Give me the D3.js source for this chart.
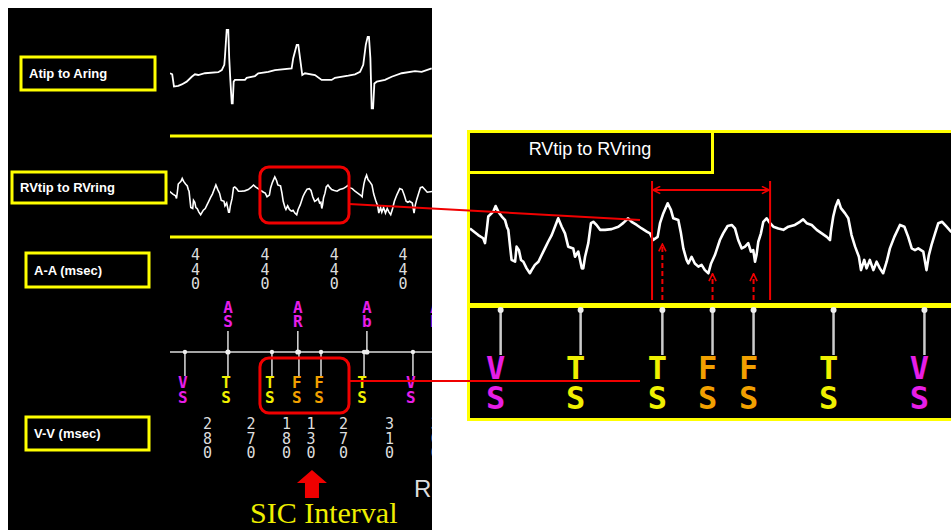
<!DOCTYPE html>
<html>
<head>
<meta charset="utf-8">
<script src="https://cdn.jsdelivr.net/npm/d3@7"></script>
<style>
  body { margin: 0; background: #fff; }
  svg { display: block; }
</style>
</head>
<body>
<div id="chart"></div>
<script>
// ---- data (time in ms, amplitude in mV) ----
const atrialTrace = [
  [0,0.05],[14,0.02],[25,-0.33],[52,-0.31],[74,-0.27],[105,-0.19],[137,-0.05],[157,0.02],[178,0],
  [220,0.05],[304,0.08],[326,0.14],[342,0.29],[346,0.52],[357,1.29],[367,1.29],[373,0.48],[380,-0.14],
  [389,-0.81],[395,-0.81],[401,-0.19],[409,-0.14],[472,-0.14],[483,-0.08],[535,-0.03],[556,0.05],
  [619,0.09],[661,0.14],[766,0.19],[776,0.48],[798,0.86],[808,0.86],[819,0.48],[833,0],[850,0.05],
  [913,0],[955,-0.14],[1018,-0.14],[1039,-0.08],[1123,-0.02],[1165,0.02],[1197,0.09],[1217,0.29],
  [1233,0.86],[1245,1.09],[1253,1.09],[1262,0.48],[1266,-0.19],[1270,-0.95],[1279,-0.95],[1287,-0.24],
  [1302,-0.19],[1354,-0.14],[1396,-0.05],[1459,0.05],[1543,0.11],[1585,0.09],[1648,0.19]
];

const rvTrace = [
  [-10,0.33],[18,0.14],[35,0.05],[41,-0.09],[47,0.29],[52,0.67],[69,0.81],[77,0.97],[86,0.81],
  [98,0.67],[109,0.57],[115,0.38],[120,0.29],[126,-0.19],[131,-0.57],[143,-0.62],[148,-0.19],
  [156,-0.29],[163,-0.57],[171,-0.62],[182,-0.81],[193,-0.95],[199,-0.86],[210,-0.71],[222,-0.62],
  [233,-0.43],[244,-0.24],[255,-0.05],[267,0.14],[278,0.38],[289,0.62],[301,0.38],[312,0.19],
  [323,-0.19],[340,-0.24],[346,-0.48],[357,-0.33],[363,-0.57],[369,-0.81],[374,-0.81],[380,-0.48],
  [391,-0.09],[400,0.48],[408,0.52],[419,0.43],[431,0.29],[448,0.29],[470,0.31],[493,0.38],
  [510,0.49],[526,0.62],[538,0.52],[555,0.43],[572,0.33],[589,0.24],[600,0.19],[611,0],[626,0.09],
  [634,0.48],[645,0.76],[660,1.05],[671,0.86],[679,0.62],[696,0.57],[705,0.19],[713,-0.24],
  [724,-0.57],[730,-0.67],[741,-0.48],[752,-0.67],[764,-0.76],[775,-0.71],[786,-0.86],[798,-0.95],
  [807,-0.67],[820,-0.43],[837,0],[848,0.19],[863,0.4],[877,0.43],[888,0.33],[899,0],[911,-0.24],
  [922,-0.19],[933,-0.09],[942,-0.33],[950,-0.29],[956,-0.62],[961,-0.43],[967,-0.05],[976,0.19],
  [984,0.52],[995,0.62],[1007,0.48],[1018,0.38],[1035,0.33],[1052,0.29],[1069,0.38],[1091,0.43],
  [1108,0.52],[1119,0.59],[1131,0.48],[1148,0.43],[1165,0.29],[1182,0.19],[1199,0.09],[1210,0],
  [1213,0.24],[1221,0.67],[1229,0.95],[1238,1.14],[1247,0.91],[1261,0.76],[1272,0.62],[1283,0.14],
  [1295,-0.19],[1308,-0.48],[1315,-0.86],[1326,-0.57],[1334,-0.81],[1345,-0.57],[1357,-0.86],
  [1368,-0.62],[1379,-0.81],[1390,-0.95],[1402,-0.62],[1413,-0.24],[1428,0.09],[1447,0.43],
  [1462,0.38],[1475,0.09],[1487,-0.24],[1498,-0.29],[1509,-0.24],[1526,-0.33],[1537,-0.86],
  [1545,-0.43],[1554,-0.14],[1566,0.19],[1577,0.48],[1590,0.52],[1605,0.38],[1620,0.24],[1650,0.28]
];

const atrialTimes = [-70, 365, 805, 1240, 1670];
const atrialCodes = ["AS", "AS", "AR", "Ab", "AR"];
const aaIntervals = [440, 440, 440, 440];

const ventTimes = [94, 365, 642, 812, 951, 1222, 1530, 1800];
const ventCodes = ["VS", "TS", "TS", "FS", "FS", "TS", "VS", "VS"];
const vvIntervals = [280, 270, 180, 130, 270, 310, 300];

const sicWindow = [607, 1007];
const sicArrowTimes = [642, 812, 951];
const sicArrowTips = [-0.06, -0.91, -0.91];

const channelLabels = ["Atip to Aring", "RVtip to RVring", "A-A (msec)", "V-V (msec)"];

// ---- drawing ----
const W = 951, H = 530;
const RED = "#f00000", YEL = "#ffff00";
const codeColor = c => ({ V: "#e61ee6", A: "#e61ee6", T: "#f0f000", F: "#f2a000" })[c[0]];

const svg = d3.select("#chart").append("svg")
    .attr("width", W)
    .attr("height", H)
    .attr("viewBox", [0, 0, W, H]);

svg.append("rect").attr("width", W).attr("height", H).attr("fill", "#fff");

const defs = svg.append("defs");
defs.append("clipPath").attr("id", "clipL")
  .append("rect").attr("x", 170).attr("y", 8).attr("width", 262).attr("height", 522);
defs.append("clipPath").attr("id", "clipPanel")
  .append("rect").attr("x", 8).attr("y", 8).attr("width", 424).attr("height", 522);
defs.append("clipPath").attr("id", "clipR")
  .append("rect").attr("x", 469).attr("y", 174).attr("width", 482).attr("height", 128);
defs.append("marker")
    .attr("id", "chev")
    .attr("viewBox", "0 0 10 10")
    .attr("refX", 9).attr("refY", 5)
    .attr("markerWidth", 9).attr("markerHeight", 9)
    .attr("markerUnits", "userSpaceOnUse")
    .attr("orient", "auto-start-reverse")
  .append("path")
    .attr("d", "M1,1 L9,5 L1,9")
    .attr("fill", "none")
    .attr("stroke", RED)
    .attr("stroke-width", 1.8);

// scales
const xL = d3.scaleLinear().domain([0, 1650]).range([170, 432]);
const xR = d3.scaleLinear().domain([-20, 1620]).range([467, 951]);
const yA = d3.scaleLinear().domain([-1, 1]).range([110, 40]);
const yRVL = d3.scaleLinear().domain([-1, 1]).range([215.7, 177.8]);
const yRVR = d3.scaleLinear().domain([-1, 1]).range([275, 205]);

// helper: a code written top-to-bottom, one upright character per row
// (upright glyphs advance ~1.164em in DejaVu Sans Mono, so pitch is set via letter-spacing)
function stack(g, str, x, top, size, pitch, color, weight) {
  g.append("text")
    .attr("x", x).attr("y", top)
    .attr("writing-mode", "vertical-rl")
    .style("text-orientation", "upright")
    .attr("letter-spacing", pitch - 1.164 * size)
    .attr("font-family", "'DejaVu Sans Mono', monospace")
    .attr("font-weight", weight)
    .attr("font-size", size)
    .attr("fill", color)
    .text(str);
}

// ---- left panel ----
svg.append("rect").attr("x", 8).attr("y", 8).attr("width", 424).attr("height", 522).attr("fill", "#000");
const left = svg.append("g").attr("clip-path", "url(#clipPanel)");

const boxes = [[21, 57, 134, 33], [12, 172, 154, 31], [26, 253, 123, 34], [26, 417, 123, 33]];
boxes.forEach((b, i) => {
  left.append("rect")
    .attr("x", b[0]).attr("y", b[1]).attr("width", b[2]).attr("height", b[3])
    .attr("fill", "none").attr("stroke", YEL).attr("stroke-width", 3);
  left.append("text")
    .attr("x", b[0] + 8).attr("y", b[1] + b[3] / 2 + 4.5)
    .attr("font-family", "'Liberation Sans', Arial, sans-serif")
    .attr("font-weight", "bold").attr("font-size", 13)
    .attr("fill", "#fff")
    .text(channelLabels[i]);
});

[136, 237].forEach(y => {
  left.append("line").attr("x1", 170).attr("x2", 432).attr("y1", y).attr("y2", y)
    .attr("stroke", YEL).attr("stroke-width", 3);
});

const strip = left.append("g").attr("clip-path", "url(#clipL)");

strip.append("path")
  .datum(atrialTrace)
  .attr("fill", "none").attr("stroke", "#fff").attr("stroke-width", 1.8)
  .attr("d", d3.line().x(d => xL(d[0])).y(d => yA(d[1])));

strip.append("path")
  .datum(rvTrace)
  .attr("fill", "none").attr("stroke", "#fff").attr("stroke-width", 1.6)
  .attr("d", d3.line().x(d => xL(d[0])).y(d => yRVL(d[1])));

// A-A intervals
aaIntervals.forEach((v, i) => {
  const mid = (atrialTimes[i] + atrialTimes[i + 1]) / 2;
  stack(strip, String(v), xL(mid) + 2, 246, 15, 14, "#ddd", "normal");
});

// marker channel
strip.append("line").attr("x1", 170).attr("x2", 432).attr("y1", 352).attr("y2", 352)
  .attr("stroke", "#ddd").attr("stroke-width", 1.5);

atrialTimes.forEach((t, i) => {
  strip.append("line").attr("x1", xL(t)).attr("x2", xL(t)).attr("y1", 331).attr("y2", 352)
    .attr("stroke", "#ddd").attr("stroke-width", 1.5);
  strip.append("circle").attr("cx", xL(t)).attr("cy", 352).attr("r", 2.6).attr("fill", "#eee");
  stack(strip, atrialCodes[i], xL(t), 298, 16, 13.5, codeColor(atrialCodes[i]), "bold");
});

ventTimes.forEach((t, i) => {
  strip.append("line").attr("x1", xL(t)).attr("x2", xL(t)).attr("y1", 352).attr("y2", 376)
    .attr("stroke", "#ddd").attr("stroke-width", 1.5);
  strip.append("circle").attr("cx", xL(t)).attr("cy", 352).attr("r", 2.2).attr("fill", "#eee");
  stack(strip, ventCodes[i], xL(t) - 2, 373, 16, 15, codeColor(ventCodes[i]), "bold");
});

// V-V intervals
vvIntervals.forEach((v, i) => {
  const mid = (ventTimes[i] + ventTimes[i + 1]) / 2;
  stack(strip, String(v), xL(mid) + 1, 415, 15, 14, "#ddd", "normal");
});

// highlight boxes around the SIC
const hx0 = xL(ventTimes[2]) - 12, hx1 = xL(ventTimes[4]) + 28;
[[167, 223], [358, 413]].forEach(r => {
  left.append("rect")
    .attr("x", hx0).attr("y", r[0]).attr("width", hx1 - hx0).attr("height", r[1] - r[0])
    .attr("rx", 9).attr("fill", "none").attr("stroke", RED).attr("stroke-width", 3);
});

// SIC arrow + label
const sicX = xL((ventTimes[3] + ventTimes[4]) / 2) + 2;
left.append("path")
  .attr("d", `M${sicX},470 L${sicX + 15},483 L${sicX + 7},483 L${sicX + 7},498 L${sicX - 7},498 L${sicX - 7},483 L${sicX - 15},483 Z`)
  .attr("fill", RED);
left.append("text")
  .attr("x", 250).attr("y", 523)
  .attr("font-family", "'Liberation Serif', 'Times New Roman', serif")
  .attr("font-size", 30).attr("fill", "#eeee00")
  .text("SIC Interval");
left.append("text")
  .attr("x", 414).attr("y", 497)
  .attr("font-family", "'Liberation Sans', Arial, sans-serif")
  .attr("font-size", 24).attr("fill", "#ddd")
  .text("Run");

// ---- right panel (zoom of RV channel) ----
svg.append("rect").attr("x", 467).attr("y", 130).attr("width", 490).attr("height", 291).attr("fill", "#000");

svg.append("g").attr("clip-path", "url(#clipR)")
  .append("path")
  .datum(rvTrace)
  .attr("fill", "none").attr("stroke", "#fff").attr("stroke-width", 2.6)
  .attr("stroke-linejoin", "round")
  .attr("d", d3.line().x(d => xR(d[0])).y(d => yRVR(d[1])));

svg.append("rect").attr("x", 468.5).attr("y", 131.5).attr("width", 490).attr("height", 288)
  .attr("fill", "none").attr("stroke", YEL).attr("stroke-width", 3);
svg.append("rect").attr("x", 468.5).attr("y", 131.5).attr("width", 244).attr("height", 41)
  .attr("fill", "#000").attr("stroke", YEL).attr("stroke-width", 3);
svg.append("text")
  .attr("x", 590).attr("y", 155)
  .attr("text-anchor", "middle")
  .attr("font-family", "'Liberation Sans', Arial, sans-serif")
  .attr("font-size", 18).attr("fill", "#fff")
  .text(channelLabels[1]);
svg.append("rect").attr("x", 467).attr("y", 303).attr("width", 484).attr("height", 5).attr("fill", YEL);

// markers in zoom
ventTimes.forEach((t, i) => {
  if (xR(t) > 951) return;
  svg.append("line").attr("x1", xR(t)).attr("x2", xR(t)).attr("y1", 310).attr("y2", 355)
    .attr("stroke", "#ccc").attr("stroke-width", 2.5);
  svg.append("circle").attr("cx", xR(t)).attr("cy", 310).attr("r", 3).attr("fill", "#eee");
  stack(svg, ventCodes[i], xR(t) - 5, 349, 32, 29.5, codeColor(ventCodes[i]), "bold");
});

// SIC window and measurement arrows
sicWindow.forEach(t => {
  svg.append("line").attr("x1", xR(t)).attr("x2", xR(t)).attr("y1", 181).attr("y2", 300)
    .attr("stroke", RED).attr("stroke-width", 2);
});
svg.append("line")
  .attr("x1", xR(sicWindow[0]) + 1).attr("x2", xR(sicWindow[1]) - 1).attr("y1", 190).attr("y2", 190)
  .attr("stroke", RED).attr("stroke-width", 2)
  .attr("marker-start", "url(#chev)").attr("marker-end", "url(#chev)");

sicArrowTimes.forEach((t, i) => {
  svg.append("line")
    .attr("x1", xR(t)).attr("x2", xR(t)).attr("y1", 300).attr("y2", yRVR(sicArrowTips[i]) + 2)
    .attr("stroke", RED).attr("stroke-width", 2).attr("stroke-dasharray", "5,3")
    .attr("marker-end", "url(#chev)");
});

// connector lines
svg.append("line").attr("x1", hx1).attr("y1", 204).attr("x2", 640).attr("y2", 220)
  .attr("stroke", RED).attr("stroke-width", 2);
svg.append("line").attr("x1", hx1).attr("y1", 381).attr("x2", 640).attr("y2", 381)
  .attr("stroke", RED).attr("stroke-width", 2);
</script>
</body>
</html>
